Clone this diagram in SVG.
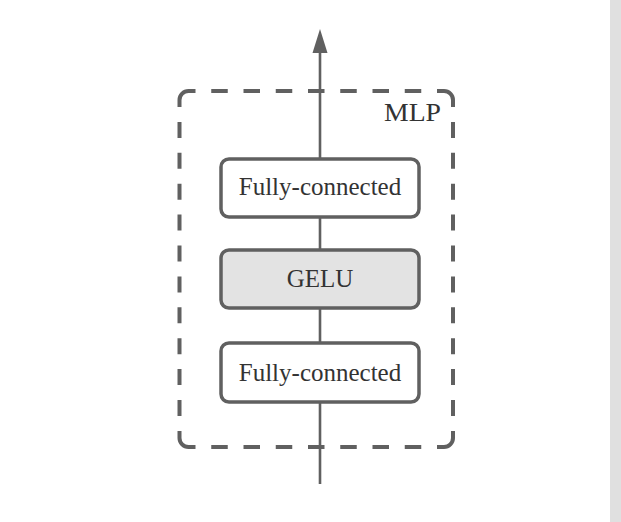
<svg xmlns="http://www.w3.org/2000/svg" width="621" height="522" viewBox="0 0 621 522">
<style>
.box{fill:#fff;stroke:#606060;stroke-width:3.5}
.gelu{fill:#e3e3e3;stroke:#606060;stroke-width:3.5}
.lbl{font-family:"Liberation Serif","Times New Roman",serif;font-size:25px;fill:#333;text-anchor:middle}
.edge{stroke:#606060;stroke-width:2.6;fill:none}
.dash{stroke:#606060;stroke-width:4;fill:none}
.hd{stroke-dasharray:16.5 15.75}
.vd{stroke-dasharray:16 14.9}
</style>
<rect x="610" y="0" width="11" height="522" fill="#e0e0e0"/>
<g id="connectors">
<line class="edge" x1="320" y1="484" x2="320" y2="50"/>
<polygon points="320,29 312.5,53 327.5,53" fill="#606060"/>
</g>
<g id="mlp">
<path class="dash" d="M179.5,107 V100 A9,9 0 0 1 188.5,91 H195.5"/>
<path class="dash" d="M437,91 H444 A9,9 0 0 1 453,100 V107"/>
<path class="dash" d="M453,431 V438 A9,9 0 0 1 444,447 H437"/>
<path class="dash" d="M195.5,447 H188.5 A9,9 0 0 1 179.5,438 V431"/>
<line class="dash hd" x1="211.25" y1="91" x2="421.25" y2="91"/>
<line class="dash hd" x1="211.25" y1="447" x2="421.25" y2="447"/>
<line class="dash vd" x1="179.5" y1="121.9" x2="179.5" y2="416.1"/>
<line class="dash vd" x1="453" y1="121.9" x2="453" y2="416.1"/>
<text x="441" y="121" font-family="Liberation Serif,serif" font-size="25" fill="#333" text-anchor="end" textLength="57" lengthAdjust="spacingAndGlyphs">MLP</text>
</g>
<g id="fc2">
<rect class="box" x="221" y="159" width="198" height="58" rx="8"/>
<text class="lbl" x="320" y="195">Fully-connected</text>
</g>
<g id="gelu">
<rect class="gelu" x="221" y="250" width="198" height="58" rx="8"/>
<text class="lbl" x="320" y="287">GELU</text>
</g>
<g id="fc1">
<rect class="box" x="221" y="343" width="198" height="59" rx="8"/>
<text class="lbl" x="320" y="381">Fully-connected</text>
</g>
</svg>
